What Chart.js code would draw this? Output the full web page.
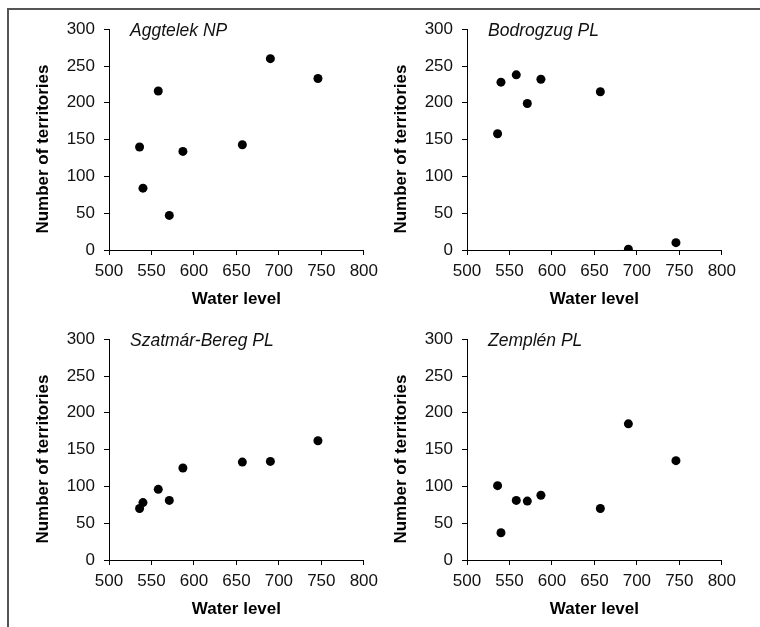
<!DOCTYPE html>
<html>
<head>
<meta charset="utf-8">
<script src="https://cdn.jsdelivr.net/npm/chart.js@4"></script>
<style>
  body { margin: 0; background: #fff; }
  #wrap { position: relative; width: 760px; height: 627px; overflow: hidden; }
  #frame { position: absolute; left: 7px; top: 8px; right: -10px; bottom: -10px;
           border-left: 2px solid #555; border-top: 2px solid #555; }
  canvas { position: absolute; }
</style>
</head>
<body>
<div id="wrap">
  <div id="frame"></div>
  <canvas id="c1" width="370" height="300" style="left:14px;top:10px"></canvas>
  <canvas id="c2" width="370" height="300" style="left:372px;top:10px"></canvas>
  <canvas id="c3" width="370" height="300" style="left:14px;top:320px"></canvas>
  <canvas id="c4" width="370" height="300" style="left:372px;top:320px"></canvas>
</div>
<script>
// water level per year (same for all sites)
const waterLevel = [536, 540, 558, 571, 587, 657, 690, 746];

// number of territories per site
const aggtelek     = [140, 84, 216, 47, 134, 143, 260, 233];
const bodrogzug    = [158, 228, 238, 199, 232, 215, 1, 10];
const szatmarBereg = [70, 78, 96, 81, 125, 133, 134, 162];
const zemplen      = [101, 37, 81, 80, 88, 70, 185, 135];

const siteNames = ["Aggtelek NP", "Bodrogzug PL", "Szatmár-Bereg PL", "Zemplén PL"];
const xTicks = [500, 550, 600, 650, 700, 750, 800];
const yTicks = [0, 50, 100, 150, 200, 250, 300];

Chart.defaults.font.family = '"Liberation Sans", Arial, sans-serif';
Chart.defaults.color = '#000';

// site name inside the plot, top left
const panelLabel = {
  id: 'panelLabel',
  afterDraw(chart, args, opts) {
    const ctx = chart.ctx;
    ctx.save();
    ctx.font = 'italic 17.5px "Liberation Sans", Arial, sans-serif';
    ctx.fillStyle = '#111';
    ctx.textBaseline = 'middle';
    ctx.textAlign = 'left';
    ctx.fillText(opts.text, chart.chartArea.left + 21, chart.chartArea.top + 2);
    ctx.restore();
  }
};

function makePanel(id, name, values) {
  const pts = waterLevel.map((x, i) => ({ x: x, y: values[i] }));
  new Chart(document.getElementById(id), {
    type: 'scatter',
    data: {
      datasets: [{
        data: pts,
        backgroundColor: '#000',
        borderWidth: 0,
        pointRadius: 4.5
      }]
    },
    plugins: [panelLabel],
    options: {
      responsive: false,
      animation: false,
      devicePixelRatio: 1,
      layout: { padding: { top: 17, right: 19, bottom: 0, left: 0 } },
      plugins: {
        legend: { display: false },
        tooltip: { enabled: false },
        panelLabel: { text: name }
      },
      scales: {
        x: {
          type: 'linear',
          min: xTicks[0],
          max: xTicks[xTicks.length - 1],
          afterBuildTicks: s => { s.ticks = xTicks.map(v => ({ value: v })); },
          afterFit: s => { s.height = 60; },
          ticks: { font: { size: 17 }, padding: 6, color: '#111', maxRotation: 0 },
          grid: { drawOnChartArea: false, tickLength: 5, color: '#000' },
          border: { display: true, color: '#000', width: 1 },
          title: { display: true, text: 'Water level', font: { size: 17, weight: 'bold' },
                   padding: { top: 0, bottom: 0 }, color: '#000' }
        },
        y: {
          type: 'linear',
          min: yTicks[0],
          max: yTicks[yTicks.length - 1],
          afterBuildTicks: s => { s.ticks = yTicks.map(v => ({ value: v })); },
          afterFit: s => { s.width = 95; },
          ticks: { font: { size: 17 }, padding: 9, color: '#111' },
          grid: { drawOnChartArea: false, tickLength: 5, color: '#000' },
          border: { display: true, color: '#000', width: 1 },
          title: { display: true, text: 'Number of territories    ', font: { size: 17, weight: 'bold' },
                   padding: { top: 19, bottom: 0 }, color: '#000' }
        }
      }
    }
  });
}

makePanel('c1', siteNames[0], aggtelek);
makePanel('c2', siteNames[1], bodrogzug);
makePanel('c3', siteNames[2], szatmarBereg);
makePanel('c4', siteNames[3], zemplen);
</script>
</body>
</html>
